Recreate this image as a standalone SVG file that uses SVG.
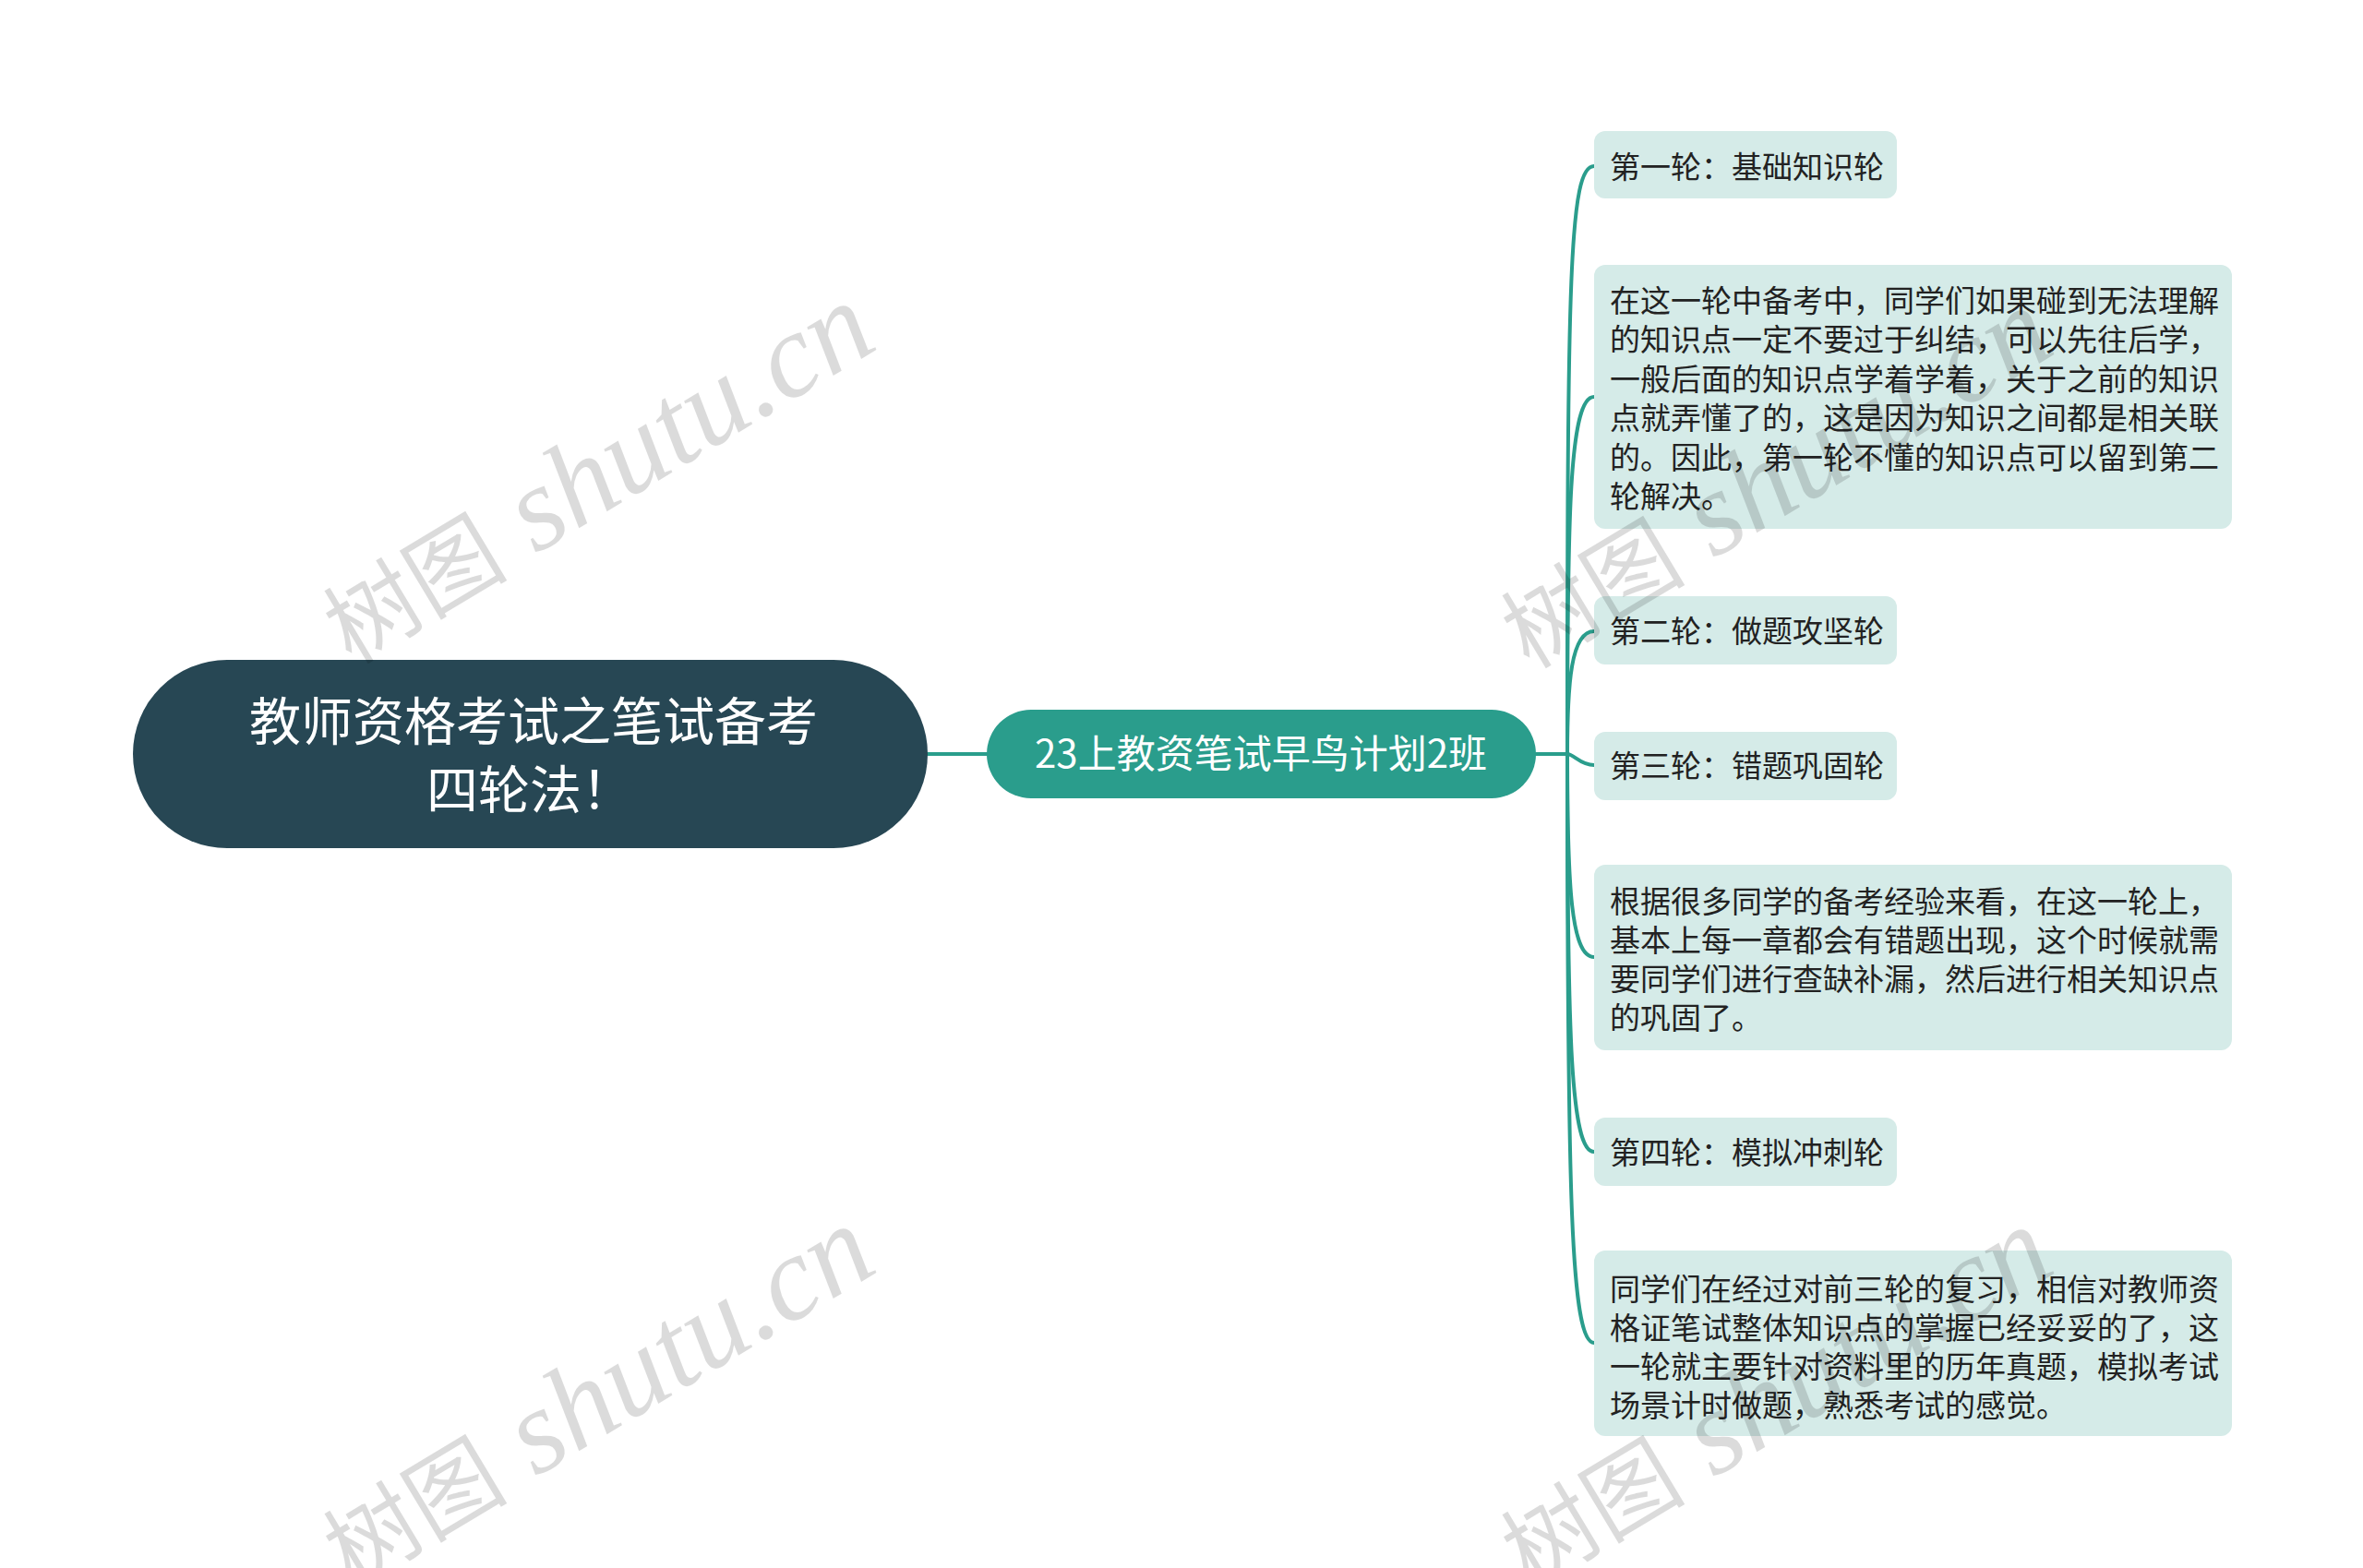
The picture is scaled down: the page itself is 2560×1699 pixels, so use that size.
<svg xmlns="http://www.w3.org/2000/svg" width="2560" height="1699" viewBox="0 0 2560 1699">
<defs>
<style>
.t{font-family:"Noto Sans CJK SC","Noto Sans",sans-serif;}
.root-box{fill:#274754;}
.root-txt{fill:#ffffff;font-size:56px;text-anchor:middle;}
.mid-box{fill:#2a9d8c;}
.mid-txt{fill:#ffffff;font-size:42px;text-anchor:middle;}
.leaf-box{fill:#d5ebe8;}
.leaf-txt{fill:#222222;font-size:33px;}
.conn{fill:none;stroke:#2a9d8c;stroke-width:4;stroke-linecap:round;}
.wm{font-family:"Liberation Serif","Noto Sans CJK SC",serif;font-style:italic;font-size:130px;fill:#000000;fill-opacity:0.14;text-anchor:middle;}
.wm .cjk{font-size:100px;font-style:normal;}
</style>
</defs>
<rect width="2560" height="1699" fill="#ffffff"/>
<g id="connectors">
<path class="conn" d="M1004 817 L1069 817"/>
<path class="conn" d="M1664 817 L1698 817"/>
<path class="conn" d="M1698 817 C1698 300 1700 180 1727 180"/>
<path class="conn" d="M1698 817 C1698 560 1700 430 1727 430"/>
<path class="conn" d="M1698 817 C1698 740 1702 684 1727 684"/>
<path class="conn" d="M1698 817 C1705 817 1712 829 1727 829"/>
<path class="conn" d="M1698 817 C1698 960 1702 1037 1727 1037"/>
<path class="conn" d="M1698 817 C1698 1130 1702 1248 1727 1248"/>
<path class="conn" d="M1698 817 C1698 1300 1702 1455 1727 1455"/>
</g>
<g id="root">
<rect class="root-box" x="144" y="715" width="861" height="204" rx="102" ry="102"/>
<text class="t root-txt" x="578" y="802">教师资格考试之笔试备考</text>
<text class="t root-txt" x="574" y="876">四轮法！</text>
</g>
<g id="plan">
<rect class="mid-box" x="1069" y="769" width="595" height="96" rx="48" ry="48"/>
<text class="t mid-txt" x="1366" y="832">23上教资笔试早鸟计划2班</text>
</g>
<g id="round1">
<rect class="leaf-box" x="1727" y="142" width="328" height="73" rx="12"/>
<text class="t leaf-txt" x="1744" y="193">第一轮：基础知识轮</text>
</g>
<g id="round1-detail">
<rect class="leaf-box" x="1727" y="287" width="691" height="286" rx="12"/>
<text class="t leaf-txt" x="1744" y="338">在这一轮中备考中，同学们如果碰到无法理解</text>
<text class="t leaf-txt" x="1744" y="380">的知识点一定不要过于纠结，可以先往后学，</text>
<text class="t leaf-txt" x="1744" y="423">一般后面的知识点学着学着，关于之前的知识</text>
<text class="t leaf-txt" x="1744" y="465">点就弄懂了的，这是因为知识之间都是相关联</text>
<text class="t leaf-txt" x="1744" y="508">的。因此，第一轮不懂的知识点可以留到第二</text>
<text class="t leaf-txt" x="1744" y="550">轮解决。</text>
</g>
<g id="round2">
<rect class="leaf-box" x="1727" y="646" width="328" height="74" rx="12"/>
<text class="t leaf-txt" x="1744" y="696">第二轮：做题攻坚轮</text>
</g>
<g id="round3">
<rect class="leaf-box" x="1727" y="793" width="328" height="74" rx="12"/>
<text class="t leaf-txt" x="1744" y="842">第三轮：错题巩固轮</text>
</g>
<g id="round3-detail">
<rect class="leaf-box" x="1727" y="937" width="691" height="201" rx="12"/>
<text class="t leaf-txt" x="1744" y="989">根据很多同学的备考经验来看，在这一轮上，</text>
<text class="t leaf-txt" x="1744" y="1031">基本上每一章都会有错题出现，这个时候就需</text>
<text class="t leaf-txt" x="1744" y="1073">要同学们进行查缺补漏，然后进行相关知识点</text>
<text class="t leaf-txt" x="1744" y="1115">的巩固了。</text>
</g>
<g id="round4">
<rect class="leaf-box" x="1727" y="1211" width="328" height="74" rx="12"/>
<text class="t leaf-txt" x="1744" y="1261">第四轮：模拟冲刺轮</text>
</g>
<g id="round4-detail">
<rect class="leaf-box" x="1727" y="1355" width="691" height="201" rx="12"/>
<text class="t leaf-txt" x="1744" y="1409">同学们在经过对前三轮的复习，相信对教师资</text>
<text class="t leaf-txt" x="1744" y="1451">格证笔试整体知识点的掌握已经妥妥的了，这</text>
<text class="t leaf-txt" x="1744" y="1493">一轮就主要针对资料里的历年真题，模拟考试</text>
<text class="t leaf-txt" x="1744" y="1535">场景计时做题，熟悉考试的感觉。</text>
</g>
<g id="watermarks">
<text class="wm" transform="translate(647 514) rotate(-31)" x="0" y="40"><tspan class="cjk">树图</tspan> shutu.cn</text>
<text class="wm" transform="translate(647 1514) rotate(-31)" x="0" y="40"><tspan class="cjk">树图</tspan> shutu.cn</text>
<text class="wm" transform="translate(1923 519) rotate(-31)" x="0" y="40"><tspan class="cjk">树图</tspan> shutu.cn</text>
<text class="wm" transform="translate(1923 1515) rotate(-31)" x="0" y="40"><tspan class="cjk">树图</tspan> shutu.cn</text>
</g>
</svg>
